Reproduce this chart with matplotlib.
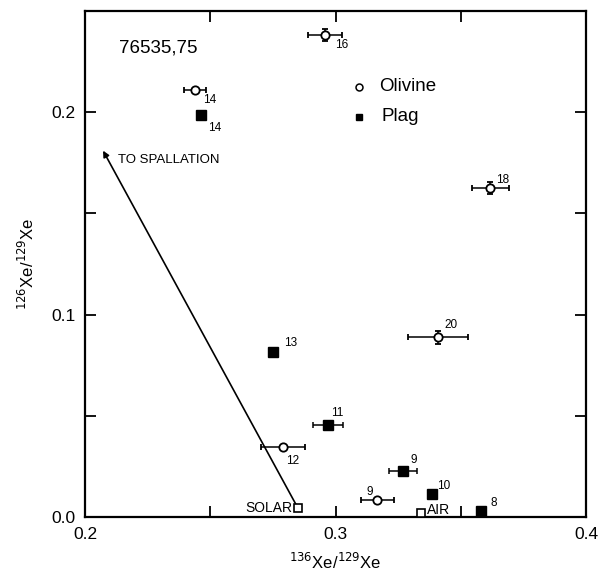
import matplotlib
matplotlib.use("Agg")
import matplotlib.pyplot as plt

plt.rcParams['font.family'] = ['Liberation Sans', 'DejaVu Sans']

# Olivine (open circles)
oli_x = [0.2439, 0.2958, 0.3617, 0.3409, 0.2790, 0.3166]
oli_y = [0.2108, 0.2380, 0.1626, 0.0887, 0.0345, 0.0084]
oli_xerr = [0.0044, 0.0068, 0.0074, 0.0120, 0.0088, 0.0066]
oli_yerr = [0.0, 0.003, 0.003, 0.003, 0.0, 0.0]
oli_lab = ['14', '16', '18', '20', '12', '9']

# Plag (filled squares)
plg_x = [0.2463, 0.2750, 0.2970, 0.3270, 0.3385, 0.3580]
plg_y = [0.1985, 0.0813, 0.0453, 0.0227, 0.0113, 0.0030]
plg_xerr = [0.0, 0.0, 0.0060, 0.0056, 0.0, 0.0]
plg_lab = ['14', '13', '11', '9', '10', '8']

# Reference compositions
ref_x = [0.2850, 0.3340]
ref_y = [0.0044, 0.0020]
ref_lab = ['SOLAR', 'AIR']

# spallation direction arrow tip
arrow_tip = (0.2072, 0.181)

fig = plt.figure(figsize=(6.0, 5.78), dpi=100)
ax = fig.add_axes([0.1417, 0.1055, 0.835, 0.8755])
ax.set_xlim(0.2, 0.4)
ax.set_ylim(0.0, 0.25)

ax.errorbar(oli_x, oli_y, xerr=oli_xerr, yerr=oli_yerr, fmt='o', mfc='white',
            mec='black', ecolor='black', ms=6, mew=1.3, elinewidth=1.1,
            capsize=2, capthick=1.1, zorder=3)
ax.errorbar(plg_x, plg_y, xerr=plg_xerr, fmt='s', mfc='black', mec='black',
            ecolor='black', ms=6.5, elinewidth=1.1, capsize=2, capthick=1.1,
            zorder=3)
ax.plot(ref_x, ref_y, 's', mfc='white', mec='black', ms=5.5, mew=1.2, zorder=4)

# point labels (offsets in points)
oli_off = [(6, -7), (7, -7), (4, 6), (5, 9), (2, -10), (-5, 6)]
for x, y, t, o in zip(oli_x, oli_y, oli_lab, oli_off):
    ax.annotate(t, (x, y), xytext=o, textcoords='offset points', fontsize=8.5,
                ha='left' if o[0] >= 0 else 'center', va='center')
plg_off = [(5, -9), (8, 7), (2, 9), (5, 8), (4, 6), (7, 6)]
for x, y, t, o in zip(plg_x, plg_y, plg_lab, plg_off):
    ax.annotate(t, (x, y), xytext=o, textcoords='offset points', fontsize=8.5,
                ha='left', va='center')
ax.annotate(ref_lab[0], (ref_x[0], ref_y[0]), xytext=(-4, 0),
            textcoords='offset points', fontsize=10, ha='right', va='center')
ax.annotate(ref_lab[1], (ref_x[1], ref_y[1]), xytext=(4.5, 2),
            textcoords='offset points', fontsize=10, ha='left', va='center')

# arrow to spallation
ax.annotate('', xy=arrow_tip, xytext=(ref_x[0], ref_y[0]),
            arrowprops=dict(arrowstyle='-|>', color='black', lw=1.2,
                            mutation_scale=9, shrinkA=3, shrinkB=0))
ax.text(0.2132, 0.1765, 'TO SPALLATION', fontsize=9.5, ha='left', va='center')
ax.text(0.2136, 0.2315, '76535,75', fontsize=13.5, ha='left', va='center')

# legend drawn manually
ax.plot([0.3095], [0.2126], 'o', mfc='white', mec='black', ms=5, mew=1.1)
ax.text(0.3175, 0.2126, 'Olivine', fontsize=13.5, ha='left', va='center')
ax.plot([0.3095], [0.1978], 's', mfc='black', mec='black', ms=5)
ax.text(0.3183, 0.1978, 'Plag', fontsize=13.5, ha='left', va='center')

ax.set_xticks([0.2, 0.25, 0.3, 0.35, 0.4])
ax.set_xticklabels(['0.2', '', '0.3', '', '0.4'])
ax.set_yticks([0.0, 0.05, 0.1, 0.15, 0.2])
ax.set_yticklabels(['0.0', '', '0.1', '', '0.2'])
ax.tick_params(direction='in', length=8, width=1.3, top=True, right=True,
               labelsize=12.5, pad=7)
for s in ax.spines.values():
    s.set_linewidth(1.6)

ax.set_xlabel(r'$^{136}$Xe/$^{129}$Xe', fontsize=12, labelpad=7)
ax.set_ylabel(r'$^{126}$Xe/$^{129}$Xe', fontsize=12, labelpad=10)

fig.savefig('out.png', dpi=100)
